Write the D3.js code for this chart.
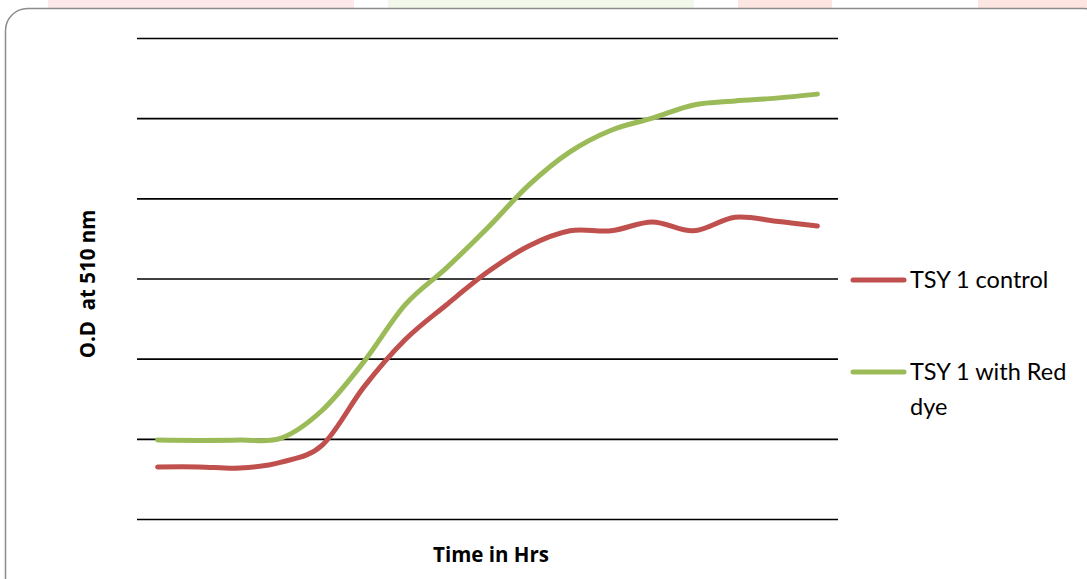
<!DOCTYPE html>
<html>
<head>
<meta charset="utf-8">
<script src="https://cdn.jsdelivr.net/npm/d3@7"></script>
<style>
  html, body { margin: 0; padding: 0; background: #fff; }
  svg { display: block; }
  text { font-family: Lato, "Open Sans", "Liberation Sans", sans-serif; }
  text.axis-title { font-family: "Open Sans", Lato, sans-serif; }
</style>
</head>
<body>
<svg id="chart" width="1087" height="579"></svg>
<script>
// Hourly readings (17 time points) of optical density at 510 nm
const hours = d3.range(17).map(i => String(i));
const controlOD = [0.130, 0.130, 0.127, 0.142, 0.185, 0.329, 0.447, 0.534, 0.616,
                   0.681, 0.719, 0.719, 0.741, 0.719, 0.753, 0.743, 0.731];
const redDyeOD = [0.197, 0.196, 0.197, 0.202, 0.272, 0.392, 0.534, 0.626, 0.726,
                  0.833, 0.916, 0.970, 1.000, 1.033, 1.043, 1.050, 1.060];
const yTicks = [0, 0.2, 0.4, 0.6, 0.8, 1.0, 1.2];
const seriesNames = ["TSY 1 control", "TSY 1 with Red dye"];
const seriesColors = ["#C0504D", "#9BBB59"];

const svg = d3.select("#chart");

// faint decorative strip along the top edge
const strip = [
  { x0: 48, x1: 354, c: "#fde9e9" },
  { x0: 388, x1: 694, c: "#f3f9ea" },
  { x0: 738, x1: 832, c: "#fde6e2" },
  { x0: 978, x1: 1087, c: "#fde6e2" }
];
svg.selectAll("rect.strip").data(strip).join("rect")
  .attr("class", "strip")
  .attr("x", d => d.x0).attr("y", 0)
  .attr("width", d => d.x1 - d.x0).attr("height", 8)
  .attr("fill", d => d.c);

// rounded frame
svg.append("rect")
  .attr("x", 5.5).attr("y", 8.5)
  .attr("width", 1100).attr("height", 600)
  .attr("rx", 22).attr("ry", 22)
  .attr("fill", "#fff")
  .attr("stroke", "#8c8c8c").attr("stroke-width", 1.5);

const plot = { left: 137, right: 838, top: 38, bottom: 519 };

const x = d3.scaleBand().domain(hours).range([plot.left, plot.right]);
const xc = d => x(d) + x.bandwidth() / 2;
const y = d3.scaleLinear().domain([0, 1.2]).range([plot.bottom, plot.top]);

// horizontal gridlines
const grid = d3.axisLeft(y).tickValues(yTicks)
  .tickSize(-(plot.right - plot.left)).tickFormat("");
const g = svg.append("g").attr("transform", `translate(${plot.left},0)`).call(grid);
g.select(".domain").remove();
g.selectAll(".tick line").attr("stroke", "#000").attr("stroke-width", 1.6);

// smoothed series lines
const line = d3.line()
  .x((d, i) => xc(hours[i]))
  .y(d => y(d))
  .curve(d3.curveCatmullRom.alpha(0));

[controlOD, redDyeOD].forEach((vals, k) => {
  svg.append("path")
    .datum(vals)
    .attr("d", line)
    .attr("fill", "none")
    .attr("stroke", seriesColors[k])
    .attr("stroke-width", 5)
    .attr("stroke-linecap", "round")
    .attr("stroke-linejoin", "round");
});

// axis titles
svg.append("text")
  .attr("class", "axis-title")
  .attr("transform", "translate(95,284) rotate(-90)")
  .attr("text-anchor", "middle")
  .attr("font-size", 20.5).attr("font-weight", "bold")
  .attr("fill", "#000")
  .attr("xml:space", "preserve")
  .text("O.D  at 510 nm");

svg.append("text")
  .attr("class", "axis-title")
  .attr("x", 491).attr("y", 562)
  .attr("text-anchor", "middle")
  .attr("font-size", 20.5).attr("font-weight", "bold")
  .attr("fill", "#000")
  .text("Time in Hrs");

// legend
const legend = [
  { y: 280, lines: ["TSY 1 control"] },
  { y: 372, lines: ["TSY 1 with Red", "dye"] }
];
legend.forEach((d, k) => {
  svg.append("line")
    .attr("x1", 853).attr("x2", 904)
    .attr("y1", d.y).attr("y2", d.y)
    .attr("stroke", seriesColors[k]).attr("stroke-width", 5)
    .attr("stroke-linecap", "round");
  const t = svg.append("text")
    .attr("x", 910).attr("y", d.y + 8)
    .attr("font-size", 23.5).attr("fill", "#000");
  d.lines.forEach((s, j) => {
    t.append("tspan").attr("x", 910).attr("dy", j === 0 ? 0 : 35).text(s);
  });
});
</script>
</body>
</html>
